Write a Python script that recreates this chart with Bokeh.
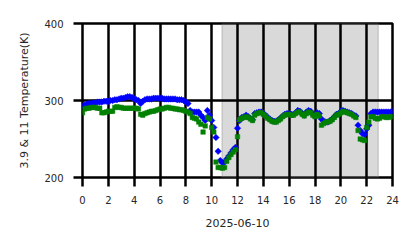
import math
from bokeh.plotting import figure
from bokeh.models import Range1d, FixedTicker, BoxAnnotation, ColumnDataSource
from bokeh.embed import file_html
from bokeh.resources import INLINE

# hours of day, 10-minute sampling
hours = [i / 6 for i in range(145)]

# 3.9 um brightness temperature (K)
t39 = [
    293, 294, 295, 296, 296, 297,
    297, 298, 298, 298, 299, 299,
    299, 300, 300, 301, 301, 302,
    303, 303, 304, 305, 305, 304,
    302, 301, 300, 296, 299, 301,
    302, 302, 302, 303, 303, 303,
    303, 303, 302, 302, 302, 302,
    302, 302, 301, 301, 301, 300,
    298, 296, 287, 285, 285, 285,
    285, 281, 278, 274, 287, 281,
    274, 265, 252, 234, 222, 219,
    220, 224, 228, 232, 236, 239,
    264, 274, 278, 279, 281, 279,
    277, 275, 283, 284, 285, 285,
    283, 281, 278, 276, 274, 273,
    273, 275, 277, 280, 282, 283,
    283, 282, 282, 284, 287, 286,
    283, 281, 285, 287, 286, 282,
    280, 284, 283, 276, 273, 272,
    272, 274, 276, 279, 282, 283,
    286, 287, 286, 285, 284, 283,
    281, 280, 268, 261, 257, 256,
    263, 268, 283, 285, 285, 285,
    285, 285, 285, 285, 285, 285,
    286,
]

# 11 um brightness temperature (K)
t11 = [
    284, 289, 290, 290, 291, 291,
    291, 290, 290, 284, 284, 285,
    286, 286, 286, 291, 292, 291,
    291, 290, 290, 290, 290, 290,
    290, 290, 289, 282, 281, 283,
    284, 285, 286, 286, 287, 288,
    289, 289, 290, 291, 291, 290,
    290, 289, 289, 288, 288, 287,
    286, 285, 283, 278, 277, 276,
    272, 269, 259, 267, 278, 276,
    265, 259, 220, 213, 213, 212,
    213, 221, 226, 230, 233, 236,
    253, 275, 277, 278, 279, 278,
    276, 274, 281, 283, 284, 284,
    282, 280, 277, 275, 273, 272,
    272, 274, 276, 279, 281, 282,
    282, 281, 281, 283, 285, 285,
    282, 280, 283, 285, 284, 281,
    279, 282, 280, 268, 270, 272,
    272, 273, 275, 278, 281, 282,
    284, 286, 285, 284, 283, 282,
    280, 278, 261, 250, 249, 248,
    265, 272, 279, 279, 277, 276,
    277, 279, 279, 278, 278, 279,
    279,
]

x_ticks = list(range(0, 25, 2))
y_ticks = [200, 300, 400]
night_start, night_end = 10.8, 22.9
x_label = "2025-06-10"
y_label = "3.9 & 11 Temperature(K)"

src = ColumnDataSource(dict(h=hours, a=t39, b=t11))

p = figure(width=418, height=248, output_backend="svg", toolbar_location=None,
           x_range=Range1d(0, 24), y_range=Range1d(200, 400),
           min_border_left=82, min_border_right=26, min_border_top=23,
           min_border_bottom=71)
p.outline_line_color = "black"
p.outline_line_width = 2.5
p.background_fill_color = "white"
p.border_fill_color = "white"

box = BoxAnnotation(left=night_start, right=night_end, fill_color="gray",
                    fill_alpha=0.3, line_color="gray", line_alpha=0.3,
                    line_width=1.5, level="image")
p.add_layout(box)

p.scatter("h", "a", source=src, marker="square", angle=math.pi / 4, size=4.6,
          fill_color="#0000ff", line_color="#0000ff", line_width=0.5)
p.scatter("h", "b", source=src, marker="square", size=4.5,
          fill_color="#008000", line_color="#008000", line_width=0.5)

p.xaxis.ticker = FixedTicker(ticks=x_ticks)
p.yaxis.ticker = FixedTicker(ticks=y_ticks)
for ax in (p.xaxis[0], p.yaxis[0]):
    ax.axis_line_color = None
    ax.major_tick_line_color = "black"
    ax.major_tick_line_width = 2.5
    ax.major_tick_out = 9
    ax.major_tick_in = 0
    ax.minor_tick_line_color = None
    ax.major_label_text_font = "DejaVu Sans"
    ax.major_label_text_font_size = "10px"
    ax.major_label_text_color = "#262626"
    ax.axis_label_text_font = "DejaVu Sans"
    ax.axis_label_text_font_size = "11px"
    ax.axis_label_text_font_style = "normal"
    ax.axis_label_text_color = "#262626"
p.xaxis.axis_label = x_label
p.yaxis.axis_label = y_label
p.xaxis.major_label_standoff = 9
p.xaxis.axis_label_standoff = 12
p.yaxis.major_label_standoff = 10
p.yaxis.axis_label_standoff = 10

for g in (p.xgrid[0], p.ygrid[0]):
    g.grid_line_color = "black"
    g.grid_line_width = 2.5
    g.grid_line_alpha = 1.0

open("out.html", "w").write(file_html(p, INLINE))
